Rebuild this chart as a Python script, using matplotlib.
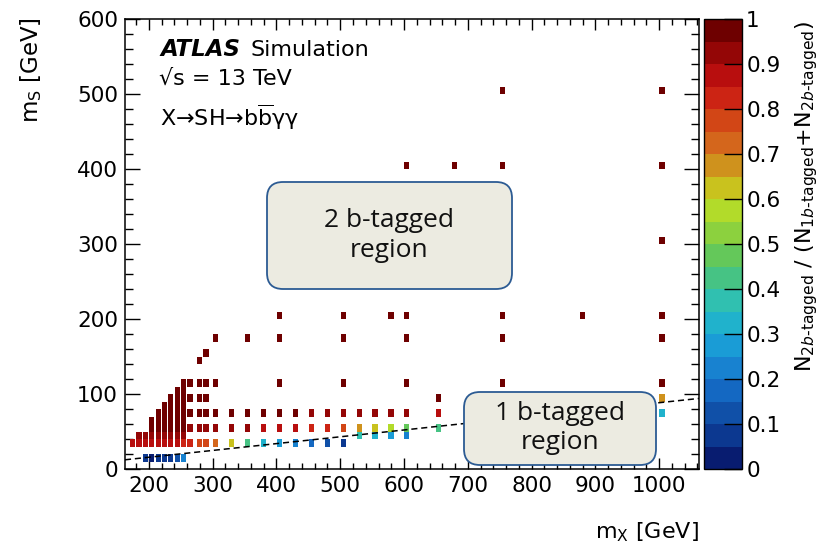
import numpy as np
import matplotlib
matplotlib.use('Agg')
import matplotlib.pyplot as plt
from matplotlib.colors import ListedColormap, BoundaryNorm
from matplotlib.patches import FancyBboxPatch
from matplotlib.ticker import MultipleLocator
import matplotlib.cm as cm

plt.rcParams['font.family'] = ['DejaVu Sans']
plt.rcParams['mathtext.fontset'] = 'dejavusans'

# signal grid: m_X, the m_S points at that m_X and the 2b-tagged fraction
mx_points = [170, 180, 190, 200, 210, 220, 230, 240, 250,
             260, 275, 285, 300, 325, 350, 375, 400, 425, 450, 475, 500,
             525, 550, 575, 600, 650, 675, 750, 875, 1000]

ms_points = [
    [30],
    [30, 40],
    [10, 30, 40],
    [10, 30, 40, 50, 60],
    [10, 30, 40, 50, 60, 70],
    [10, 30, 40, 50, 60, 70, 80],
    [10, 30, 40, 50, 60, 70, 80, 90],
    [10, 30, 40, 50, 60, 70, 80, 90, 100],
    [10, 30, 40, 50, 60, 70, 80, 90, 100, 110],
    [30, 50, 70, 90, 110],
    [30, 50, 70, 90, 110, 140],
    [30, 50, 70, 90, 110, 150],
    [30, 50, 70, 110, 170],
    [30, 50, 70],
    [30, 50, 70, 170],
    [30, 50, 70],
    [30, 50, 70, 110, 170, 200],
    [30, 50, 70],
    [30, 50, 70],
    [30, 50, 70],
    [30, 50, 70, 110, 170, 200],
    [40, 50, 70],
    [40, 50, 70],
    [40, 50, 70, 200],
    [40, 50, 70, 110, 170, 200, 400],
    [50, 70, 90],
    [400],
    [110, 170, 200, 400, 500],
    [200],
    [70, 90, 110, 170, 200, 300, 400, 500],
]

frac_points = [
    [0.88],
    [0.87, 0.94],
    [0.07, 0.87, 0.94],
    [0.04, 0.87, 0.94, 0.97, 0.97],
    [0.08, 0.86, 0.94, 0.97, 0.97, 0.97],
    [0.07, 0.86, 0.93, 0.96, 0.97, 0.97, 0.97],
    [0.06, 0.86, 0.93, 0.96, 0.97, 0.97, 0.97, 0.97],
    [0.13, 0.86, 0.93, 0.96, 0.97, 0.97, 0.97, 0.97, 0.97],
    [0.21, 0.85, 0.93, 0.96, 0.97, 0.97, 0.97, 0.97, 0.97, 0.97],
    [0.80, 0.95, 0.97, 0.97, 0.97],
    [0.77, 0.93, 0.96, 0.97, 0.97, 0.97],
    [0.76, 0.93, 0.96, 0.97, 0.97, 0.97],
    [0.72, 0.92, 0.96, 0.97, 0.97],
    [0.62, 0.90, 0.96],
    [0.42, 0.90, 0.96, 0.97],
    [0.33, 0.88, 0.96],
    [0.27, 0.87, 0.96, 0.97, 0.97, 0.97],
    [0.22, 0.87, 0.96],
    [0.17, 0.85, 0.95],
    [0.14, 0.82, 0.95],
    [0.08, 0.78, 0.95, 0.97, 0.97, 0.97],
    [0.37, 0.68, 0.94],
    [0.32, 0.62, 0.94],
    [0.28, 0.56, 0.94, 0.97],
    [0.22, 0.48, 0.93, 0.97, 0.97, 0.97, 0.97],
    [0.41, 0.87, 0.96],
    [0.97],
    [0.97, 0.97, 0.97, 0.97, 0.97],
    [0.97],
    [0.33, 0.68, 0.97, 0.97, 0.97, 0.97, 0.97, 0.97],
]

# dashed 1b / 2b boundary
line_mx = [162.5, 1062.5]
line_ms = [12.9, 94.7]

cbar_ticks = [0, 0.1, 0.2, 0.3, 0.4, 0.5, 0.6, 0.7, 0.8, 0.9, 1]

# palette, 20 bands from 0 to 1
band_colors = ['#081c70', '#0c3890', '#1050a8', '#1468c2', '#1882d0',
               '#1a9cd6', '#20b2cc', '#30c0b0', '#46c384', '#64c85a',
               '#8cd13e', '#b2db2a', '#c9c21e', '#cf921d', '#d4661c',
               '#d24616', '#cc2414', '#b80e0e', '#940606', '#6e0000']
cmap = ListedColormap(band_colors)
norm = BoundaryNorm(np.linspace(0, 1, 21), 20)

xs, ys, fs = [], [], []
for m, ms_list, f_list in zip(mx_points, ms_points, frac_points):
    for s, f in zip(ms_list, f_list):
        xs.append(m)
        ys.append(s)
        fs.append(f)
xs = np.array(xs)
ys = np.array(ys)
fs = np.array(fs)

fig = plt.figure(figsize=(8.31, 5.48), dpi=100)
ax = fig.add_axes([0.1504, 0.1433, 0.6908, 0.8212])

ax.bar(xs + 0.5, 10, width=8, bottom=ys, align='edge',
       color=cmap(norm(fs)), linewidth=0, zorder=2)

ax.plot(line_mx, line_ms, color='black', lw=1.1, ls=(0, (4, 2.5)), zorder=3)

ax.set_xlim(162.5, 1062.5)
ax.set_ylim(0, 600)
ax.xaxis.set_major_locator(MultipleLocator(100))
ax.xaxis.set_minor_locator(MultipleLocator(20))
ax.yaxis.set_major_locator(MultipleLocator(100))
ax.yaxis.set_minor_locator(MultipleLocator(20))
ax.tick_params(which='both', direction='in', top=True, right=True,
               labelsize=15.5, width=1)
ax.tick_params(axis='x', which='major', length=8, pad=5)
ax.tick_params(axis='x', which='minor', length=4)
ax.tick_params(axis='y', which='major', length=11, pad=5)
ax.tick_params(axis='y', which='minor', length=6)
for sp in ax.spines.values():
    sp.set_linewidth(1.1)

# region boxes (figure inches so the corners stay round)
box_style = dict(boxstyle='round,pad=0,rounding_size=0.16',
                 facecolor='#ecebe1', edgecolor='#2c5b93', lw=1.3,
                 transform=fig.dpi_scale_trans, zorder=4, clip_on=False)
ax.add_patch(FancyBboxPatch((2.67, 2.59), 2.45, 1.07, **box_style))
ax.add_patch(FancyBboxPatch((4.64, 0.83), 1.92, 0.73, **box_style))
ax.text(3.895, 3.125, '2 b-tagged\nregion', transform=fig.dpi_scale_trans,
        ha='center', va='center', fontsize=19, family='Open Sans',
        linespacing=1.25, color='#111111', zorder=5)
ax.text(5.60, 1.20, '1 b-tagged\nregion', transform=fig.dpi_scale_trans,
        ha='center', va='center', fontsize=19, family='Open Sans',
        linespacing=1.25, color='#111111', zorder=5)

ax.text(0.061, 0.919, 'ATLAS', transform=ax.transAxes, fontsize=16.5,
        fontweight='bold', style='italic', va='baseline')
ax.text(0.218, 0.919, 'Simulation', transform=ax.transAxes, fontsize=16,
        va='baseline')
ax.text(0.059, 0.854, '√s = 13 TeV', transform=ax.transAxes, fontsize=16,
        va='baseline')
ax.text(0.061, 0.763, r'X→SH→b$\overline{\mathrm{b}}$γγ',
        transform=ax.transAxes, fontsize=16, va='baseline')

fig.text(0.0373, 0.969, r'm$_{\mathrm{S}}$ [GeV]', rotation=90,
         ha='center', va='top', fontsize=16.5)
fig.text(0.841, 0.0182, r'm$_{\mathrm{X}}$ [GeV]', ha='right',
         va='baseline', fontsize=16)

cax = fig.add_axes([0.8472, 0.1433, 0.0457, 0.8212])
sm = cm.ScalarMappable(norm=norm, cmap=cmap)
cb = fig.colorbar(sm, cax=cax, ticks=cbar_ticks)
cb.ax.set_yticklabels(['%g' % t for t in cbar_ticks])
cb.ax.tick_params(direction='in', length=13, width=1, labelsize=15.5, pad=3)
cb.ax.minorticks_off()
cb.outline.set_linewidth(1.0)
fig.text(0.971, 0.962,
         r'N$_{2\mathit{b}\text{-tagged}}$ / (N$_{1\mathit{b}\text{-tagged}}$'
         r'+N$_{2\mathit{b}\text{-tagged}}$)',
         rotation=90, ha='center', va='top', fontsize=16)

fig.savefig('out.png', dpi=100)
